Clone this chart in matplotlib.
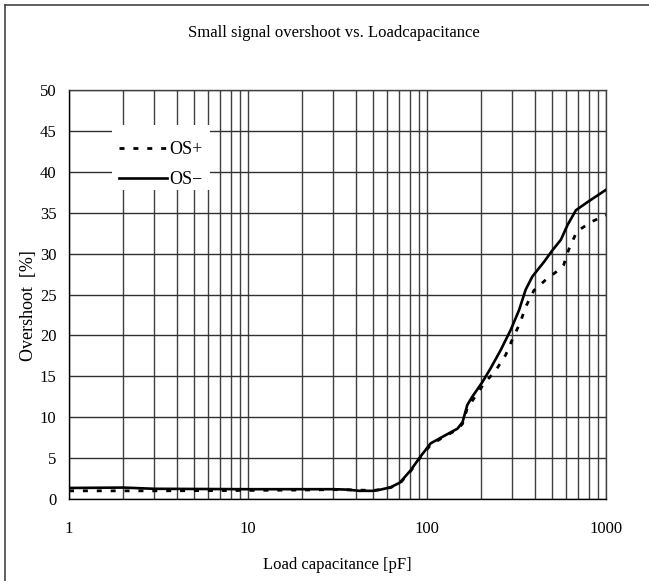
import matplotlib.pyplot as plt
from matplotlib.lines import Line2D
from matplotlib.patches import Rectangle

plt.rcParams['font.family'] = ['Liberation Serif', 'DejaVu Serif']

# OS- (solid)
cap_neg = [1, 2, 3, 10, 20, 30, 36, 42, 50, 55, 62.6, 70.5, 81, 92, 104.8, 122, 148,
           158, 168, 179, 204, 227, 258, 294, 327, 356, 388, 451, 502, 560, 610, 679,
           789, 1000]
os_neg = [1.35, 1.4, 1.25, 1.2, 1.2, 1.2, 1.15, 1.0, 1.0, 1.15, 1.43, 2.0, 3.5, 5.2, 6.8,
          7.6, 8.6, 9.4, 11.5, 12.5, 14.3, 16.0, 18.2, 20.7, 23.1, 25.6, 27.2, 29.0,
          30.4, 31.7, 33.5, 35.3, 36.3, 37.8]

# OS+ (dotted)
cap_pos = [1, 3, 10, 20, 30, 40, 50, 55, 62.6, 70.5, 81, 92, 104.8, 122, 148, 158, 168,
           208, 242, 275, 304, 331, 356, 396, 461, 560, 580, 617, 687, 831, 1000]
os_pos = [1.0, 1.0, 1.05, 1.1, 1.15, 1.1, 1.05, 1.15, 1.4, 1.9, 3.4, 5.1, 6.6, 7.5, 8.5,
          9.2, 11.1, 14.1, 15.7, 17.6, 19.8, 21.5, 23.5, 25.5, 26.8, 28.2, 28.6, 30.4,
          32.7, 33.9, 34.7]

fig = plt.figure(figsize=(6.49, 5.81), dpi=100)
ax = fig.add_axes([0.1063, 0.1411, 0.8274, 0.704])

ax.plot(cap_pos, os_pos, color='black', lw=2.0, linestyle=(0, (1.8, 3.2)), label='OS+', zorder=3)
ax.plot(cap_neg, os_neg, color='black', lw=1.9, label='OS\u2212', zorder=3)

ax.set_xscale('log')
ax.set_xlim(1, 1000)
ax.set_ylim(0, 50)
ax.set_yticks(range(0, 51, 5))
ax.set_xticks([1, 10, 100, 1000])
ax.set_xticklabels(['1', '10', '100', '1000'])
ax.minorticks_on()
ax.yaxis.set_minor_locator(plt.NullLocator())
ax.grid(which='both', axis='x', color='#404040', lw=1.0)
ax.grid(which='major', axis='y', color='#303030', lw=1.0)
ax.set_axisbelow(True)
ax.tick_params(which='both', length=0, labelsize=12)
ax.tick_params(axis='y', pad=9)
ax.tick_params(axis='x', pad=16)
for s in ax.spines.values():
    s.set_color('#404040')
    s.set_linewidth(1.0)
ax.spines['left'].set_color('black')
ax.spines['bottom'].set_color('black')

ax.set_xlabel('Load capacitance [pF]', fontsize=12, labelpad=14)
ax.set_ylabel('Overshoot  [%]', fontsize=13)
ax.yaxis.set_label_coords(-0.060, 0.472)
fig.text(0.515, 0.943, 'Small signal overshoot vs. Loadcapacitance', ha='center',
         va='center', fontsize=12)

# white block behind the legend, hiding the grid there
ax.add_patch(Rectangle((0.080, 0.7555), 0.1826, 0.1589, transform=ax.transAxes,
                       facecolor='white', edgecolor='none', zorder=1.5))
leg = ax.legend(loc='upper left', bbox_to_anchor=(0.080, 0.892), frameon=False,
                fontsize=13, handlelength=2.67, handletextpad=0.1, borderpad=0.4,
                labelspacing=0.72, borderaxespad=0)

# outer frame (top and left edges)
fig.add_artist(Line2D([0.008, 1.0], [0.991, 0.991], color='#444444', lw=1.2))
fig.add_artist(Line2D([0.008, 0.008], [0.0, 0.991], color='#444444', lw=1.2))

fig.savefig('out.png', dpi=100)
